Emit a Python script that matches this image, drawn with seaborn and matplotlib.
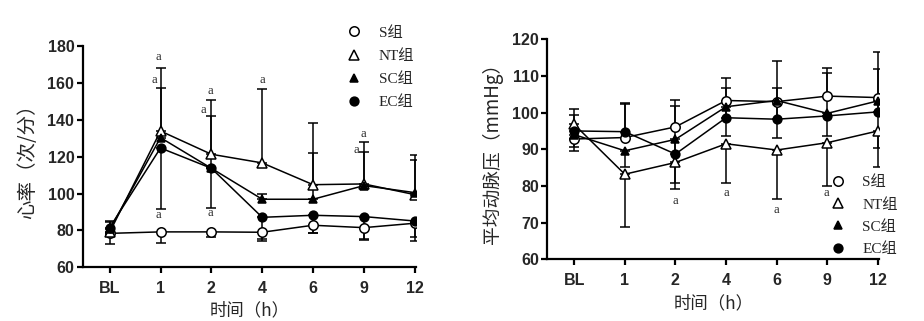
import numpy as np
import pandas as pd
import matplotlib
matplotlib.use("Agg")
import matplotlib.pyplot as plt
from matplotlib.lines import Line2D
import seaborn as sns

# ---------------- data ----------------
time_labels = ["BL", "1", "2", "4", "6", "9", "12"]
groups = ["S组", "NT组", "SC组", "EC组"]

# Heart rate (left panel)
hr_S = [78.4, 79.2, 79.2, 79.0, 82.8, 81.5, 83.9]
hr_NT = [79.0, 133.9, 121.3, 116.6, 104.8, 105.2, 99.4]
hr_SC = [80.5, 130.3, 113.7, 96.9, 96.9, 104.3, 100.5]
hr_EC = [81.5, 124.7, 113.7, 87.1, 88.2, 87.5, 85.1]
# SD (drawn one-sided: NT/SC above, S/EC below)
hr_S_sd = [6.0, 6.2, 2.9, 4.6, 4.0, 6.3, 9.8]
hr_NT_sd = [6.3, 34.0, 29.4, 40.0, 33.2, 22.9, 21.5]
hr_SC_sd = [4.0, 26.7, 28.3, 3.0, 25.3, 18.0, 17.7]
hr_EC_sd = [4.0, 33.3, 21.4, 12.0, 9.5, 12.5, 8.8]

# Mean arterial pressure (right panel)
map_S = [92.8, 93.2, 96.1, 103.3, 103.0, 104.5, 104.1]
map_NT = [96.8, 83.2, 86.4, 91.5, 89.8, 91.8, 95.0]
map_SC = [94.0, 89.6, 92.7, 101.6, 103.3, 99.8, 103.2]
map_EC = [95.0, 94.8, 88.7, 98.6, 98.2, 99.1, 100.2]
# SD (drawn one-sided: S/EC above, SC/NT below)
map_S_sd = [8.3, 9.3, 7.4, 6.2, 11.1, 7.6, 12.3]
map_NT_sd = [7.2, 14.3, 7.2, 10.6, 13.3, 11.7, 9.9]
map_SC_sd = [3.5, 4.3, 12.0, 8.0, 10.3, 6.2, 12.9]
map_EC_sd = [4.4, 7.5, 13.1, 8.0, 8.4, 11.8, 11.6]

# significance marks: (time label, y value, x shift)
hr_marks = [("1", 174.0, -0.04), ("1", 161.6, -0.12), ("1", 88.4, -0.04),
            ("2", 155.6, -0.02), ("2", 145.3, -0.15), ("2", 89.6, -0.02),
            ("4", 161.6, 0.0), ("9", 132.3, -0.02), ("9", 123.6, -0.15)]
map_marks = [("2", 75.9, 0.0), ("4", 78.2, 0.0), ("6", 73.5, 0.0), ("9", 78.0, -0.03)]

# ---------------- style ----------------
sns.set_theme(style="ticks")
plt.rcParams["font.family"] = ["Liberation Sans", "Noto Sans CJK SC", "DejaVu Sans"]

fig = plt.figure(figsize=(9.24, 3.21), dpi=100)
ax1 = fig.add_axes([0.0895, 0.1673, 0.3605, 0.6894])
ax2 = fig.add_axes([0.5923, 0.1922, 0.3590, 0.6855])

xpos = np.arange(len(time_labels))
marker_style = {
    "S组": dict(marker="o", mfc="white", mec="black", ms=6.8),
    "NT组": dict(marker="^", mfc="white", mec="black", ms=7.5),
    "SC组": dict(marker="^", mfc="black", mec="black", ms=6.0),
    "EC组": dict(marker="o", mfc="black", mec="black", ms=6.3),
}


def draw_panel(ax, series, sds, directions, marks):
    for g, vals, sd, d in zip(groups, series, sds, directions):
        vals = np.asarray(vals)
        sd = np.asarray(sd)
        lower = sd if d == "down" else np.zeros_like(sd)
        upper = sd if d == "up" else np.zeros_like(sd)
        ax.errorbar(xpos, vals, yerr=[lower, upper], fmt="none", ecolor="black",
                    elinewidth=1.1, capsize=3.8, capthick=1.1, zorder=2)
    for g, vals in zip(groups, series):
        df = pd.DataFrame({"time": xpos, "value": vals})
        sns.lineplot(data=df, x="time", y="value", ax=ax, color="black",
                     linewidth=1.1, markeredgewidth=1.1, zorder=3,
                     **marker_style[g])
    for lab, yv, dx in marks:
        ax.text(time_labels.index(lab) + dx, yv, "a", ha="center", va="center",
                fontsize=9, family=["Liberation Serif", "DejaVu Serif"])
    ax.set_xticks(xpos)
    ax.set_xticklabels(time_labels)
    ax.set_xlim(-0.53, 6.02)
    for s in ["top", "right"]:
        ax.spines[s].set_visible(False)
    for s in ["left", "bottom"]:
        ax.spines[s].set_linewidth(1.6)
        ax.spines[s].set_color("black")
    ax.tick_params(axis="both", direction="out", length=4, width=1.6,
                   color="black", labelsize=11.5)
    ax.tick_params(axis="y", pad=2)
    ax.tick_params(axis="x", pad=6)
    for lab in ax.get_xticklabels() + ax.get_yticklabels():
        lab.set_fontweight("bold")
    ax.set_xlabel("时间（h）", fontsize=12.5,
                  family=["Noto Sans CJK SC", "DejaVu Sans"])
    ax.grid(False)


draw_panel(ax1, [hr_S, hr_NT, hr_SC, hr_EC],
           [hr_S_sd, hr_NT_sd, hr_SC_sd, hr_EC_sd],
           ["down", "up", "up", "down"], hr_marks)
ax1.set_ylim(60, 180)
ax1.set_yticks(np.arange(60, 181, 20))
ax1.set_ylabel("心率（次/分）", fontsize=14,
               family=["Noto Sans CJK SC", "DejaVu Sans"])
ax1.yaxis.set_label_coords(-0.135, 0.5)
ax1.xaxis.set_label_coords(0.5, -0.152)

draw_panel(ax2, [map_S, map_NT, map_SC, map_EC],
           [map_S_sd, map_NT_sd, map_SC_sd, map_EC_sd],
           ["up", "down", "down", "up"], map_marks)
ax2.set_ylim(60, 120)
ax2.set_yticks(np.arange(60, 121, 10))
ax2.set_ylabel("平均动脉压（mmHg）", fontsize=13.5,
               family=["Noto Sans CJK SC", "DejaVu Sans"])
ax2.yaxis.set_label_coords(-0.135, 0.5)
ax2.xaxis.set_label_coords(0.5, -0.16)

# legends
handles = [Line2D([], [], linestyle="none", markeredgewidth=1.1,
                  **marker_style[g]) for g in groups]
leg_font = dict(family=["Liberation Serif", "Noto Sans CJK SC"], size=11)
ax1.legend(handles, groups, loc="upper left", bbox_to_anchor=(0.77, 1.125),
           frameon=False, handlelength=1.0, handletextpad=1.1,
           labelspacing=0.62, borderpad=0, prop=leg_font)
ax2.legend(handles, groups, loc="upper left", bbox_to_anchor=(0.83, 0.415),
           frameon=False, handlelength=1.0, handletextpad=1.1,
           labelspacing=0.55, borderpad=0, prop=leg_font)

fig.savefig("out.png", dpi=100)
